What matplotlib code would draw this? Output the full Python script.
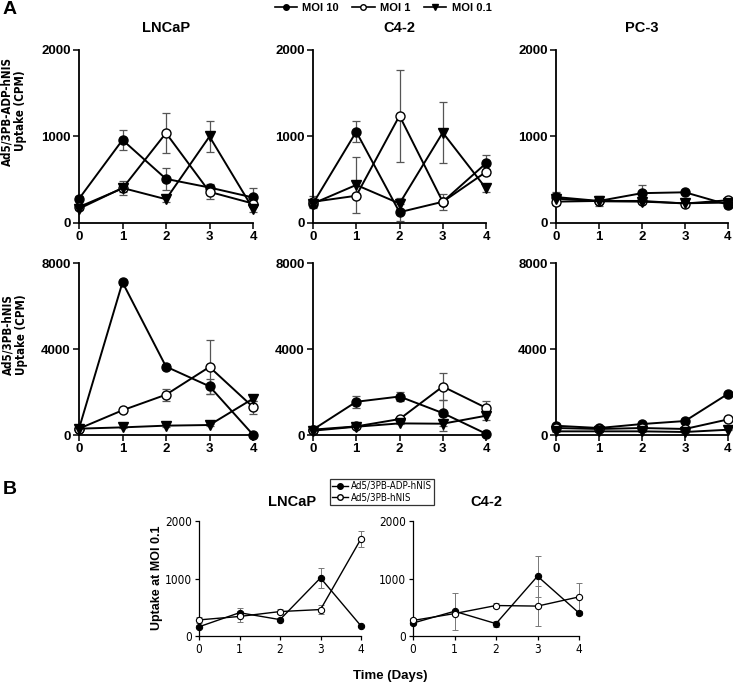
import matplotlib
matplotlib.use("Agg")
import matplotlib.pyplot as plt
from matplotlib import font_manager
from matplotlib.lines import Line2D

_fonts = font_manager.fontManager.ttflist
_names = {f.name for f in _fonts}
SANS = "Liberation Sans"
if "Liberation Sans Narrow" in _names:
    NARROW, NSTRETCH = "Liberation Sans Narrow", "normal"
elif any(f.name == "DejaVu Sans" and str(f.stretch) in ("condensed", "semi-condensed") for f in _fonts):
    NARROW, NSTRETCH = "DejaVu Sans", "condensed"
else:
    NARROW, NSTRETCH = SANS, "normal"
plt.rcParams['font.family'] = [SANS, 'DejaVu Sans']

days = [0, 1, 2, 3, 4]
series_labels = ["MOI 10", "MOI 1", "MOI 0.1"]
cell_lines = ["LNCaP", "C4-2", "PC-3"]

# Row 1: Ad5/3PB-ADP-hNIS uptake (CPM)
adp_lncap = {"MOI 10": [280, 960, 510, 410, 295], "MOI 1": [185, 400, 1040, 360, 225], "MOI 0.1": [165, 405, 275, 1000, 165]}
adp_lncap_err = {"MOI 10": [30, 115, 130, 40, 115], "MOI 1": [20, 40, 235, 85, 20], "MOI 0.1": [20, 80, 30, 175, 40]}
adp_c42 = {"MOI 10": [225, 1055, 125, 245, 690], "MOI 1": [245, 315, 1240, 245, 590], "MOI 0.1": [225, 440, 225, 1045, 400]}
adp_c42_err = {"MOI 10": [30, 120, 100, 30, 95], "MOI 1": [70, 20, 530, 90, 30], "MOI 0.1": [30, 320, 60, 355, 40]}
adp_pc3 = {"MOI 10": [300, 255, 345, 355, 212], "MOI 1": [247, 255, 255, 225, 263], "MOI 0.1": [282, 251, 247, 228, 236]}
adp_pc3_err = {"MOI 10": [45, 20, 90, 20, 40], "MOI 1": [20, 55, 20, 20, 40], "MOI 0.1": [75, 25, 20, 20, 20]}

# Row 2: Ad5/3PB-hNIS uptake (CPM)
nis_lncap = {"MOI 10": [295, 7100, 3180, 2265, 15], "MOI 1": [295, 1150, 1875, 3165, 1300], "MOI 0.1": [295, 355, 435, 465, 1690]}
nis_lncap_err = {"MOI 10": [60, 120, 120, 360, 30], "MOI 1": [60, 60, 280, 1255, 300], "MOI 0.1": [60, 40, 40, 40, 110]}
nis_c42 = {"MOI 10": [250, 1545, 1790, 1020, 60], "MOI 1": [250, 400, 740, 2255, 1265], "MOI 0.1": [200, 385, 540, 525, 895]}
nis_c42_err = {"MOI 10": [40, 280, 190, 590, 20], "MOI 1": [40, 60, 60, 650, 325], "MOI 0.1": [40, 60, 40, 350, 200]}
nis_pc3 = {"MOI 10": [430, 325, 510, 650, 1915], "MOI 1": [325, 280, 325, 280, 725], "MOI 0.1": [170, 170, 170, 140, 245]}
nis_pc3_err = {"MOI 10": [40, 40, 40, 40, 100], "MOI 1": [40, 40, 40, 40, 40], "MOI 0.1": [30, 30, 30, 30, 30]}

# Panel B: uptake at MOI 0.1
b_labels = ["Ad5/3PB-ADP-hNIS", "Ad5/3PB-hNIS"]
b_lncap_adp = [160, 405, 285, 1010, 175]
b_lncap_adp_err = [25, 80, 30, 180, 25]
b_lncap_nis = [280, 340, 425, 460, 1690]
b_lncap_nis_err = [50, 100, 50, 80, 140]
b_c42_adp = [225, 430, 215, 1040, 400]
b_c42_adp_err = [30, 320, 50, 360, 30]
b_c42_nis = [270, 390, 530, 520, 680]
b_c42_nis_err = [40, 30, 50, 350, 240]

W, H = 733, 684
fig = plt.figure(figsize=(W / 100, H / 100), dpi=100)

def fx(px):
    return px / W

def fy(py):
    return 1 - py / H

styles = {
    "MOI 10": dict(marker="o", mfc="black", mec="black"),
    "MOI 1": dict(marker="o", mfc="white", mec="black"),
    "MOI 0.1": dict(marker="v", mfc="black", mec="black"),
}

def style_axes(ax, ylim, yticks, bold=True, tickfs=9.5, family=SANS, stretch="normal"):
    ax.set_xlim(0, 4)
    ax.set_ylim(*ylim)
    ax.set_xticks(days)
    ax.set_yticks(yticks)
    for s in ("top", "right"):
        ax.spines[s].set_visible(False)
    for s in ("left", "bottom"):
        ax.spines[s].set_linewidth(1.3)
    ax.tick_params(direction="out", length=4, width=1.1, pad=2)
    for lab in ax.get_xticklabels() + ax.get_yticklabels():
        lab.set_fontsize(tickfs)
        lab.set_fontweight("bold" if bold else "normal")
        lab.set_family(family)
        lab.set_fontstretch(stretch)

def draw_panel(ax, data, err, ms=6.5, lw=1.4):
    for lab in series_labels:
        ax.errorbar(days, data[lab], yerr=err[lab], fmt="none", ecolor="#555555",
                    elinewidth=0.9, capsize=3, capthick=0.9, clip_on=False, zorder=2)
        ax.plot(days, data[lab], color="black", lw=lw, ms=ms, clip_on=False,
                zorder=3, mew=1.0, **styles[lab])

top_lefts = [79, 313, 556]
top_widths = [174, 173, 172]
row1 = [(adp_lncap, adp_lncap_err), (adp_c42, adp_c42_err), (adp_pc3, adp_pc3_err)]
row2 = [(nis_lncap, nis_lncap_err), (nis_c42, nis_c42_err), (nis_pc3, nis_pc3_err)]

for i in range(3):
    ax = fig.add_axes([fx(top_lefts[i]), fy(223), fx(top_widths[i]), 173 / H])
    draw_panel(ax, *row1[i])
    style_axes(ax, (0, 2000), [0, 1000, 2000])
    fig.text(fx(top_lefts[i] + top_widths[i] / 2), fy(28), cell_lines[i],
             ha="center", va="center", fontsize=10.5, fontweight="bold")

    ax2 = fig.add_axes([fx(top_lefts[i]), fy(435), fx(top_widths[i]), 172 / H])
    draw_panel(ax2, *row2[i])
    style_axes(ax2, (0, 8000), [0, 4000, 8000])

fig.text(fx(14), fy(111), "Ad5/3PB-ADP-hNIS\nUptake (CPM)", rotation=90, ha="center",
         va="center", fontsize=8.3, fontweight="bold", linespacing=1.1,
         family=NARROW, fontstretch=NSTRETCH)
fig.text(fx(15), fy(335), "Ad5/3PB-hNIS\nUptake (CPM)", rotation=90, ha="center",
         va="center", fontsize=8.3, fontweight="bold", linespacing=1.1,
         family=NARROW, fontstretch=NSTRETCH)

fig.text(fx(3), fy(10), "A", fontsize=14, fontweight="bold", ha="left", va="center")
fig.text(fx(3), fy(490), "B", fontsize=14, fontweight="bold", ha="left", va="center")

handles = [Line2D([], [], color="black", lw=1.2, ms=4, **styles[l]) for l in series_labels]
fig.legend(handles, series_labels, loc="center", bbox_to_anchor=(fx(383), fy(8)), ncol=3,
           frameon=False, handlelength=2.0, columnspacing=1.2, handletextpad=0.5,
           prop=dict(family=SANS, weight="bold", size=8))

# Panel B
b_styles = [dict(marker="o", mfc="black", mec="black"), dict(marker="o", mfc="white", mec="black")]
b_panels = [
    ("LNCaP", 199, 162, 292, [(b_lncap_adp, b_lncap_adp_err), (b_lncap_nis, b_lncap_nis_err)]),
    ("C4-2", 413, 166, 486, [(b_c42_adp, b_c42_adp_err), (b_c42_nis, b_c42_nis_err)]),
]
for title, left, width, tx, series in b_panels:
    ax = fig.add_axes([fx(left), fy(636), fx(width), 115 / H])
    for (vals, errs), st in zip(series, b_styles):
        ax.errorbar(days, vals, yerr=errs, fmt="none", ecolor="#777777", elinewidth=0.7,
                    capsize=2, capthick=0.7, clip_on=False, zorder=2)
        ax.plot(days, vals, color="black", lw=1.0, ms=4.5, mew=0.8, clip_on=False, zorder=3, **st)
    style_axes(ax, (0, 2000), [0, 1000, 2000], bold=False, tickfs=8.5,
               family=NARROW, stretch=NSTRETCH)
    ax.tick_params(length=3, width=0.9)
    for s in ("left", "bottom"):
        ax.spines[s].set_linewidth(0.9)
    fig.text(fx(tx), fy(502), title, ha="center", va="center", fontsize=10.5, fontweight="bold")

fig.text(fx(157), fy(578), "Uptake at MOI 0.1", rotation=90, ha="center", va="center",
         fontsize=9, fontweight="bold")
fig.text(fx(390), fy(676), "Time (Days)", ha="center", va="center", fontsize=9.5,
         fontweight="bold")

bh = [Line2D([], [], color="black", lw=1.0, ms=4, **st) for st in b_styles]
leg = fig.legend(bh, b_labels, loc="upper left", bbox_to_anchor=(fx(330), fy(479)),
                 frameon=True, fancybox=False, edgecolor="black", handlelength=1.6,
                 handletextpad=0.3, borderpad=0.25, labelspacing=0.15, borderaxespad=0,
                 prop=dict(family=NARROW, stretch=NSTRETCH, size=7))
leg.get_frame().set_linewidth(0.9)

fig.savefig("out.png", dpi=100)
